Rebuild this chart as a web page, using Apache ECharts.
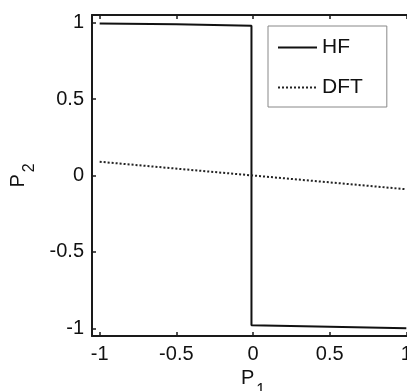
<!DOCTYPE html>
<html>
<head>
<meta charset="utf-8">
<script src="https://cdn.jsdelivr.net/npm/echarts@6/dist/echarts.min.js"></script>
<style>
html,body{margin:0;padding:0;background:#fff;}
#c{width:407px;height:391px;}
</style>
</head>
<body>
<div id="c"></div>
<script>
var seriesNames = ['HF', 'DFT'];
var hfX = [-1, -0.5, -0.01, -0.01, 0.5, 1];
var hfY = [0.995, 0.99, 0.98, -0.98, -0.99, -1.0];
var dftX = [-1, 0, 1];
var dftY = [0.09, 0, -0.09];
var xTicks = [-1, -0.5, 0, 0.5, 1];
var yTicks = [-1, -0.5, 0, 0.5, 1];
var xRange = [-1.05, 1.05];
var yRange = [-1.05, 1.05];

function pairs(xs, ys) { return xs.map(function (x, i) { return [x, ys[i]]; }); }

var FONT = '"Liberation Sans", Arial, sans-serif';
var AX = '#1a1a1a';

var chart = echarts.init(document.getElementById('c'), null, {renderer: 'canvas'});

function mainAxis(ticks, range, extra) {
  return Object.assign({
    type: 'value', min: range[0], max: range[1],
    axisLine: {show: true, onZero: false, lineStyle: {color: AX, width: 2}},
    axisTick: {show: true, inside: true, length: 4, customValues: ticks, lineStyle: {color: AX, width: 1.5}},
    axisLabel: {show: true, customValues: ticks, color: '#111', fontSize: 20, fontFamily: FONT, margin: 8},
    splitLine: {show: false}
  }, extra);
}
function mirrorAxis(ticks, range, extra) {
  return Object.assign({
    type: 'value', min: range[0], max: range[1],
    axisLine: {show: true, onZero: false, lineStyle: {color: AX, width: 2}},
    axisTick: {show: true, inside: true, length: 4, customValues: ticks, lineStyle: {color: AX, width: 1.5}},
    axisLabel: {show: false},
    splitLine: {show: false}
  }, extra);
}

var nameRich = {
  p: {fontSize: 20, fontFamily: FONT, color: '#111', lineHeight: 22, verticalAlign: 'top'},
  s: {fontSize: 16, fontFamily: FONT, color: '#111', lineHeight: 17, padding: [14, 0, 0, 2], verticalAlign: 'top'}
};

chart.setOption({
  animation: false,
  backgroundColor: '#fff',
  grid: {left: 92, top: 15, width: 322, height: 321, containLabel: false, outerBoundsMode: 'none'},
  xAxis: [
    mainAxis(xTicks, xRange, {
      position: 'bottom',
      name: '{p|P}{s|1}', nameLocation: 'middle', nameGap: 29,
      nameTextStyle: {rich: nameRich}
    }),
    mirrorAxis(xTicks, xRange, {position: 'top'})
  ],
  yAxis: [
    mainAxis(yTicks, yRange, {
      position: 'left',
      name: '{p|P}{s|2}', nameLocation: 'middle', nameGap: 62, nameRotate: 90,
      nameTextStyle: {rich: nameRich}
    }),
    mirrorAxis(yTicks, yRange, {position: 'right'})
  ],
  legend: {
    data: seriesNames,
    orient: 'vertical',
    left: 268, top: 26,
    padding: [11, 24, 9, 9],
    itemWidth: 39, itemHeight: 20, itemGap: 19,
    borderColor: '#888', borderWidth: 1, backgroundColor: '#fff',
    itemStyle: {color: 'rgba(0,0,0,0)', borderWidth: 0, borderColor: 'rgba(0,0,0,0)'},
    textStyle: {fontSize: 21, fontFamily: FONT, color: '#111'}
  },
  series: [
    {
      name: seriesNames[0], type: 'line', data: pairs(hfX, hfY),
      symbol: 'none', xAxisIndex: 0, yAxisIndex: 0,
      lineStyle: {color: '#111', width: 2}, itemStyle: {color: '#111'}
    },
    {
      name: seriesNames[1], type: 'line', data: pairs(dftX, dftY),
      symbol: 'none', xAxisIndex: 0, yAxisIndex: 0,
      lineStyle: {color: '#222', width: 2, type: [2, 2]}, itemStyle: {color: '#222'}
    }
  ]
});
</script>
</body>
</html>
